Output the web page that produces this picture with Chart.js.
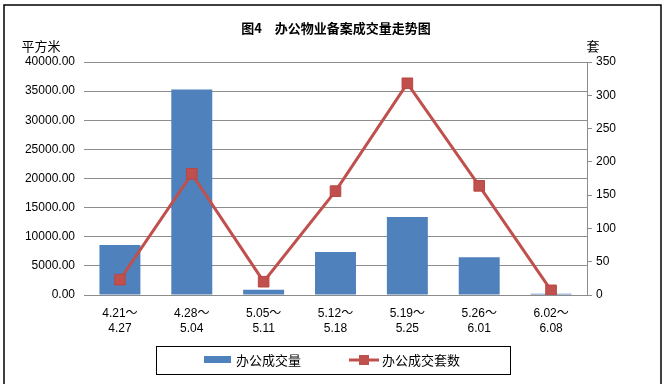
<!DOCTYPE html>
<html>
<head>
<meta charset="utf-8">
<script src="https://cdn.jsdelivr.net/npm/chart.js@4"></script>
<style>
  html, body { margin: 0; padding: 0; background: #fff; }
  #wrap { width: 664px; height: 384px; }
</style>
</head>
<body>
<div id="wrap"><canvas id="officeChart" width="664" height="384"></canvas></div>
<script>
// week ranges (two lines each)
const weeks = [
  ['4.21～', '4.27'],
  ['4.28～', '5.04'],
  ['5.05～', '5.11'],
  ['5.12～', '5.18'],
  ['5.19～', '5.25'],
  ['5.26～', '6.01'],
  ['6.02～', '6.08']
];
// 办公成交量 (平方米)
const areaSold = [8600, 35300, 900, 7400, 13400, 6500, 200];
// 办公成交套数 (套)
const unitsSold = [23, 182, 20, 156, 318, 164, 7];

const chartTitle = '图4　办公物业备案成交量走势图';
const leftUnit = '平方米';
const rightUnit = '套';
const barLabel = '办公成交量';
const lineLabel = '办公成交套数';

const FONT = "'Liberation Sans', 'Noto Sans CJK SC', sans-serif";
const CJK = "'Noto Sans CJK SC', sans-serif";
const BLUE = '#4F81BD';
const RED = '#C0504D';
const GRID = '#8C8C8C';

// frame, title, units and legend box
const decor = {
  id: 'decor',
  afterDraw(chart) {
    const c = chart.ctx;
    c.save();
    // outer frame
    c.strokeStyle = '#000';
    c.lineWidth = 1.5;
    c.strokeRect(4, 5, 657, 400);

    // title
    c.fillStyle = '#000';
    c.textAlign = 'center';
    c.textBaseline = 'middle';
    c.font = 'bold 13px ' + CJK;
    c.fillText(chartTitle, 336, 28);

    // unit labels
    c.font = '13px ' + CJK;
    c.fillText(leftUnit, 41, 46);
    c.fillText(rightUnit, 593, 46);

    // legend box
    c.lineWidth = 1;
    c.strokeStyle = '#000';
    c.strokeRect(156.5, 346.5, 354, 28);
    c.fillStyle = BLUE;
    c.fillRect(204, 356, 27, 7);
    c.strokeStyle = RED;
    c.lineWidth = 3;
    c.beginPath();
    c.moveTo(349, 360);
    c.lineTo(379, 360);
    c.stroke();
    c.fillStyle = RED;
    c.fillRect(359, 355, 10, 10);
    c.fillStyle = '#000';
    c.textAlign = 'left';
    c.font = '13px ' + CJK;
    c.fillText(barLabel, 236, 360);
    c.fillText(lineLabel, 382, 360);
    c.restore();
  }
};

new Chart(document.getElementById('officeChart'), {
  type: 'bar',
  data: {
    labels: weeks,
    datasets: [
      {
        type: 'line',
        label: lineLabel,
        data: unitsSold,
        yAxisID: 'y1',
        borderColor: RED,
        backgroundColor: RED,
        borderWidth: 3,
        tension: 0,
        pointStyle: 'rect',
        pointRadius: 7.5,
        pointBackgroundColor: RED,
        pointBorderColor: '#B84744',
        pointBorderWidth: 1,
        order: 0
      },
      {
        label: barLabel,
        data: areaSold,
        yAxisID: 'y',
        backgroundColor: BLUE,
        borderWidth: 0,
        categoryPercentage: 1,
        barPercentage: 0.57,
        order: 1
      }
    ]
  },
  options: {
    responsive: false,
    animation: false,
    layout: { padding: { top: 62, left: 0, right: 0, bottom: 38 } },
    plugins: {
      legend: { display: false },
      title: { display: false },
      tooltip: { enabled: false }
    },
    scales: {
      x: {
        grid: { display: false },
        border: { display: false },
        ticks: {
          color: '#000',
          padding: 3,
          maxRotation: 0,
          font: { family: FONT, size: 12, lineHeight: 1.25 }
        },
        afterFit: s => { s.height = 51; }
      },
      y: {
        position: 'left',
        min: 0,
        max: 40000,
        grid: { color: GRID, drawTicks: false },
        border: { display: false },
        ticks: {
          stepSize: 5000,
          color: '#000',
          padding: 9,
          font: { family: FONT, size: 12 },
          callback: v => v.toFixed(2)
        },
        afterFit: s => { s.width = 84; }
      },
      y1: {
        position: 'right',
        min: 0,
        max: 350,
        grid: { drawOnChartArea: false, drawTicks: true, tickLength: 5, color: GRID },
        border: { display: true, color: GRID },
        ticks: {
          stepSize: 50,
          color: '#000',
          padding: 4,
          font: { family: FONT, size: 12 }
        },
        afterFit: s => { s.width = 77; }
      }
    }
  },
  plugins: [decor]
});
</script>
</body>
</html>
